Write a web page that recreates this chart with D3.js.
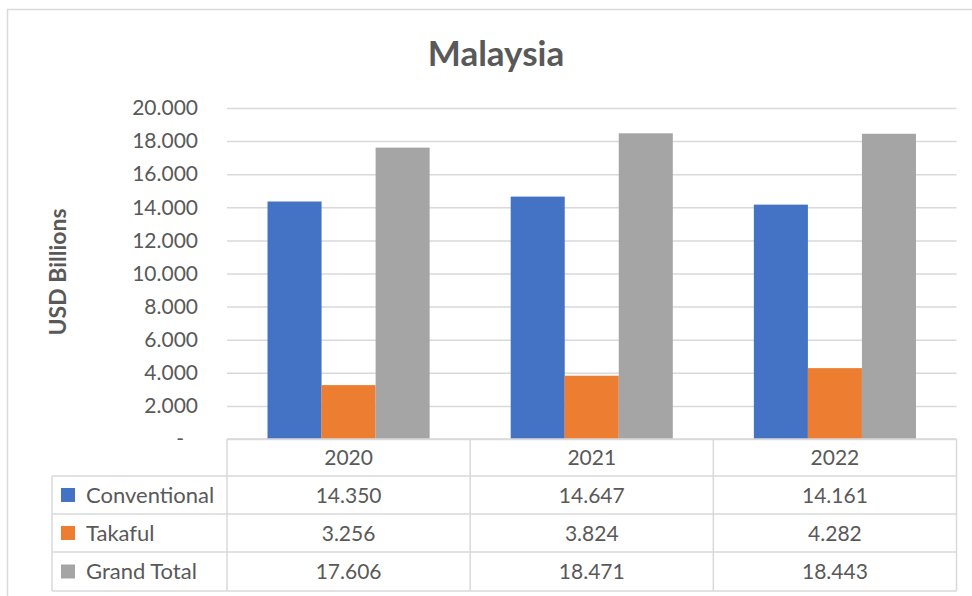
<!DOCTYPE html>
<html>
<head>
<meta charset="utf-8">
<script src="https://cdn.jsdelivr.net/npm/d3@7"></script>
<style>
  body { margin: 0; background: #fff; }
  text { font-family: Lato, "Open Sans", sans-serif; fill: #595959; }
</style>
</head>
<body>
<svg id="chartSvg"></svg>
<script>
// values in USD billions
let years = ["2020", "2021", "2022"];
let seriesNames = ["Conventional", "Takaful", "Grand Total"];
let conventional = [14.350, 14.647, 14.161];
let takaful = [3.256, 3.824, 4.282];
let grandTotal = [17.606, 18.471, 18.443];
let yTicks = [0, 2, 4, 6, 8, 10, 12, 14, 16, 18, 20];
let colors = ["#4472C4", "#ED7D31", "#A5A5A5"];

class MalaysiaChart {

  constructor(){
    this.width = 972;
    this.height = 596;
    this.svg = d3.select("#chartSvg").attr("width", this.width).attr("height", this.height);
    this.plot = {left: 227, right: 956.5, top: 108, bottom: 439};
    this.rowH = [37, 38, 38, 39];
    this.x0 = d3.scaleBand().domain(years).range([this.plot.left, this.plot.right]).padding(0);
    this.x1 = d3.scaleBand().domain(seriesNames).range([0, this.x0.bandwidth()]).paddingInner(0).paddingOuter(0.75);
    this.y = d3.scaleLinear().domain([0, 20]).range([this.plot.bottom, this.plot.top]);
    this.rows = seriesNames.map((name, i) => ({name: name, color: colors[i], values: [conventional, takaful, grandTotal][i]}));
  }

  drawFrame(){
    this.svg.append("rect")
      .attr("x", 7.5).attr("y", 9.5)
      .attr("width", 990).attr("height", 620)
      .style("fill", "#fff").style("stroke", "#D9D9D9").style("stroke-width", 1.5);

    this.svg.append("text")
      .attr("x", 496).attr("y", 66)
      .attr("text-anchor", "middle")
      .style("font-size", "35px").style("font-weight", "bold")
      .text("Malaysia");

    this.svg.append("text")
      .attr("transform", "translate(66,272) rotate(-90)")
      .attr("text-anchor", "middle")
      .style("font-size", "23px").style("font-weight", "bold")
      .text("USD Billions");
  }

  drawAxis(){
    let self = this;
    let axis = d3.axisLeft(self.y)
      .tickValues(yTicks)
      .tickSize(-(self.plot.right - self.plot.left))
      .tickPadding(29)
      .tickFormat(d => d === 0 ? "-" : d3.format(".3f")(d));
    let g = self.svg.append("g")
      .attr("transform", "translate(" + self.plot.left + ",0)")
      .call(axis);
    g.select(".domain").remove();
    g.selectAll(".tick line").style("stroke", "#D9D9D9").style("stroke-width", 1.5);
    g.selectAll(".tick text")
      .style("font-size", "21px").style("fill", "#595959")
      .style("font-family", "Lato, 'Open Sans', sans-serif")
      .attr("dx", d => d === 0 ? -14 : 0);
  }

  drawBars(){
    let self = this;
    let groups = self.svg.append("g").selectAll("g")
      .data(years)
      .enter()
      .append("g")
      .attr("transform", d => "translate(" + self.x0(d) + ",0)");
    groups.selectAll("rect")
      .data((d, i) => self.rows.map(r => ({name: r.name, color: r.color, value: r.values[i]})))
      .enter()
      .append("rect")
      .attr("x", d => self.x1(d.name))
      .attr("width", self.x1.bandwidth())
      .attr("y", d => self.y(d.value))
      .attr("height", d => self.y(0) - self.y(d.value))
      .style("fill", d => d.color);
  }

  drawTable(){
    let self = this;
    let left = 52, top = self.plot.bottom;
    let lineColor = "#D9D9D9";
    let yLines = [top];
    self.rowH.forEach(h => yLines.push(yLines[yLines.length - 1] + h));
    let g = self.svg.append("g");

    // horizontal lines
    g.append("line").attr("x1", self.plot.left).attr("x2", self.plot.right)
      .attr("y1", top).attr("y2", top);
    for(let i = 1; i < yLines.length; i++){
      g.append("line").attr("x1", left).attr("x2", self.plot.right)
        .attr("y1", yLines[i]).attr("y2", yLines[i]);
    }
    // vertical lines
    let xLines = years.map(d => self.x0(d)).concat([self.plot.right]);
    xLines.forEach(x => {
      g.append("line").attr("x1", x).attr("x2", x).attr("y1", top).attr("y2", yLines[yLines.length - 1]);
    });
    g.append("line").attr("x1", left).attr("x2", left).attr("y1", yLines[1]).attr("y2", yLines[yLines.length - 1]);
    g.selectAll("line").style("stroke", lineColor).style("stroke-width", 1.5);

    // year header
    g.selectAll(".yearLabel")
      .data(years)
      .enter()
      .append("text")
      .attr("class", "yearLabel")
      .attr("x", d => self.x0(d) + self.x0.bandwidth() / 2)
      .attr("y", (yLines[0] + yLines[1]) / 2)
      .attr("dy", "0.36em")
      .attr("text-anchor", "middle")
      .style("font-size", "21px")
      .text(d => d);

    // series rows
    self.rows.forEach((r, i) => {
      let cy = (yLines[i + 1] + yLines[i + 2]) / 2;
      g.append("rect").attr("x", 61).attr("y", cy - 7).attr("width", 14).attr("height", 14)
        .style("fill", r.color);
      g.append("text").attr("x", 86).attr("y", cy).attr("dy", "0.36em")
        .style("font-size", "22px").text(r.name);
      g.selectAll(".val" + i)
        .data(r.values)
        .enter()
        .append("text")
        .attr("class", "val" + i)
        .attr("x", (d, j) => self.x0(years[j]) + self.x0.bandwidth() / 2)
        .attr("y", cy)
        .attr("dy", "0.36em")
        .attr("text-anchor", "middle")
        .style("font-size", "21px")
        .text(d => d3.format(".3f")(d));
    });
  }
}

let chart = new MalaysiaChart();
chart.drawFrame();
chart.drawAxis();
chart.drawBars();
chart.drawTable();
</script>
</body>
</html>
